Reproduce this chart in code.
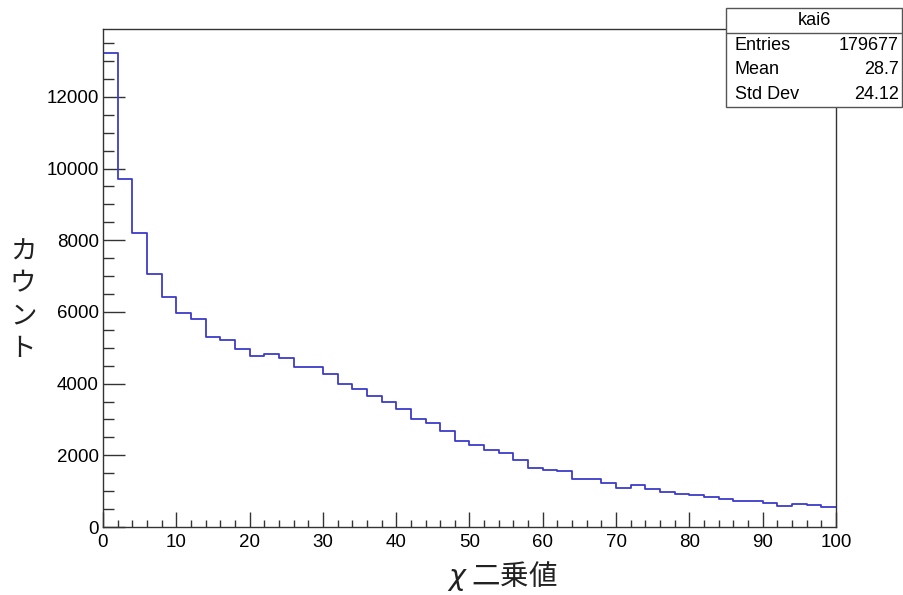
import numpy as np, pandas as pd, matplotlib
matplotlib.use("Agg")
import matplotlib.pyplot as plt, seaborn as sns
from matplotlib.patches import Rectangle
from matplotlib.ticker import MultipleLocator

# histogram "kai6": 50 bins of width 2 over 0..100
bin_edges = list(range(0, 102, 2))
counts = [13230, 9720, 8200, 7050, 6415, 5980, 5810, 5300, 5225, 4955,
          4780, 4825, 4705, 4470, 4460, 4280, 3977, 3838, 3651, 3483,
          3298, 3019, 2907, 2674, 2394, 2301, 2134, 2069, 1874, 1650,
          1603, 1556, 1333, 1352, 1221, 1091, 1166, 1054, 989, 924,
          886, 830, 784, 737, 718, 663, 598, 645, 626, 570]
stat_name = "kai6"
stat_labels = ["Entries", "Mean", "Std Dev"]
stat_values = ["179677", "28.7", "24.12"]
x_label = "$\\chi$ 二乗値"
y_label = "カウント"

centers = [(a + b) / 2 for a, b in zip(bin_edges[:-1], bin_edges[1:])]
df = pd.DataFrame({"chi2": centers, "n": counts})

sns.set_style("white")
plt.rcParams["font.family"] = ["Liberation Sans", "DejaVu Sans"]
plt.rcParams["text.color"] = "black"
cjk = ["Noto Sans CJK JP", "DejaVu Sans"]

fig = plt.figure(figsize=(9.04, 5.95), dpi=100)
ax = fig.add_axes([103/904, 1-527/595, (836-103)/904, (527-29)/595])
sns.histplot(data=df, x="chi2", weights="n", bins=bin_edges, element="step",
             fill=False, color="#3b3bc9", linewidth=1.3, ax=ax)
ax.set_xlim(0, 100); ax.set_ylim(0, max(counts) * 1.05)
ax.xaxis.set_major_locator(MultipleLocator(10)); ax.xaxis.set_minor_locator(MultipleLocator(2))
ax.yaxis.set_major_locator(MultipleLocator(2000)); ax.yaxis.set_minor_locator(MultipleLocator(500))
ax.tick_params(axis="both", which="both", direction="in", color="#333333", width=1, labelsize=13.5,
               labelcolor="black", bottom=True, left=True, top=False, right=False)
ax.tick_params(axis="y", which="major", length=15.8, pad=3)
ax.tick_params(axis="y", which="minor", length=7.9)
ax.tick_params(axis="x", which="major", length=10.8, pad=5)
ax.tick_params(axis="x", which="minor", length=5.4)
for s in ax.spines.values(): s.set_color("#333333"); s.set_linewidth(1)
ax.set_xlabel(""); ax.set_ylabel("")

fig.text(502/904, 1-576/595, x_label, ha="center", va="center", fontsize=20.5, family=cjk, color="#222222")
fig.text(23/904, 1-300/595, "\n".join(y_label), ha="center", va="center", fontsize=19, family=cjk,
         linespacing=1.25, color="#222222")

# stats box (ROOT style)
bl, br, bt, bs, bb = 726/904, 902/904, 1-8/595, 1-33/595, 1-107/595
fig.add_artist(Rectangle((bl, bb), br-bl, bt-bb, transform=fig.transFigure, facecolor="white", edgecolor="#555555", lw=1, zorder=5))
fig.add_artist(plt.Line2D([bl, br], [bs, bs], transform=fig.transFigure, color="#555555", lw=1, zorder=6))
fig.text((bl+br)/2, (bt+bs)/2, stat_name, ha="center", va="center", fontsize=13, zorder=7)
row_h = (bs - bb) / 3
for i, (lab, val) in enumerate(zip(stat_labels, stat_values)):
    yy = bs - row_h * (i + 0.5)
    fig.text(bl + 9/904, yy, lab, ha="left", va="center", fontsize=13, zorder=7)
    fig.text(br - 3/904, yy, val, ha="right", va="center", fontsize=13, zorder=7)

fig.savefig("out.png", dpi=100)
